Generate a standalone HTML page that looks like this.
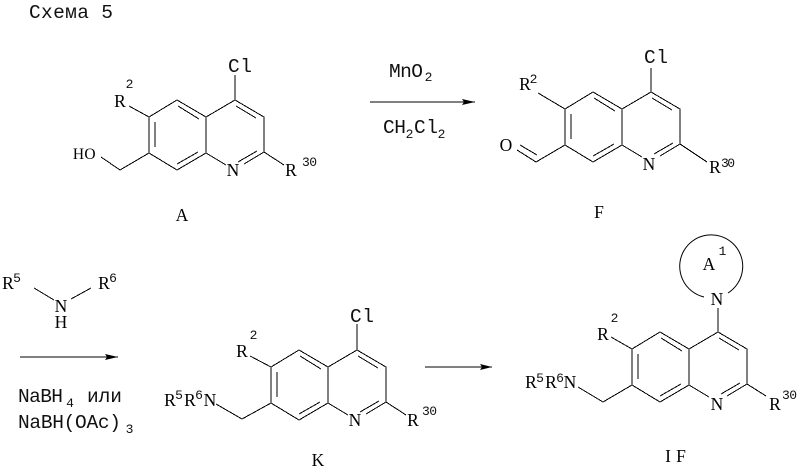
<!DOCTYPE html>
<html><head><meta charset="utf-8"><style>
html,body{margin:0;padding:0;background:#fff}
svg{display:block}
text{font-family:"Liberation Mono","Noto Sans CJK SC",monospace;font-size:19.500px;fill:#111;text-anchor:middle}
text.s{font-size:13px;font-family:"Liberation Mono",monospace}
text.c{font-family:"Liberation Serif",serif;font-size:17.500px;fill:#000}
.b{stroke:#000;stroke-width:1;fill:none;shape-rendering:crispEdges}
</style></head><body>
<svg width="798" height="472" viewBox="0 0 798 472" xmlns="http://www.w3.org/2000/svg">
<defs>
<g id="q" class="b">
<path d="M235 100L264 117V152M235 100L206 117V153L226 165M206 117L177 100L149 117V153L177 170L206 153M264 152L244 164"/>
<path d="M236 106L256 118M257 151L238 162M178 106L199 119M155 122V147M177 164L198 152"/>
</g>
</defs>
<rect width="798" height="472" fill="#fff"/>
<text x="71" y="18" textLength="84">Схема 5</text>

<!-- A -->
<use href="#q"/>
<path class="b" d="M235 100V75M129 106L149 117M149 153L120 170L101 157M264 152L284 165"/>
<text x="240" y="72" textLength="24">Cl</text>
<text class="c" x="120" y="107">R</text><text class="s" x="129.500" y="88">2</text>
<text class="c" style="font-size:15.500px" x="78.500" y="159">H</text><text class="c" style="font-size:15.500px" x="90" y="159">O</text>
<text class="c" x="233" y="176">N</text>
<text class="c" x="291" y="176">R</text><text class="s" x="309.500" y="166" textLength="15">30</text>
<text class="c" x="182" y="221">A</text>

<!-- F -->
<use href="#q" x="416" y="-8"/>
<path class="b" d="M651 92V68M538 93L565 109M565 145L536 162L517 150M537 155L520 145M680 144L707 162"/>
<text x="656" y="63" textLength="24">Cl</text>
<text class="c" x="525" y="90">R</text><text class="s" x="533.500" y="83">2</text>
<text class="c" x="506" y="151">O</text>
<text class="c" x="649" y="170">N</text>
<text class="c" x="715" y="173">R</text><text class="s" x="728" y="167" textLength="14">30</text>
<text class="c" x="599" y="218">F</text>

<!-- MnO2 arrow -->
<text x="406" y="77" textLength="34">MnO</text><text class="s" x="428.500" y="81">2</text>
<path class="b" d="M370 102H475"/>
<path d="M462 99L475 102L462 105L464 102Z" fill="#000"/>
<text x="394.500" y="133" textLength="23">CH</text><text class="s" x="409.500" y="138">2</text>
<text x="426" y="133" textLength="24">Cl</text><text class="s" x="441.500" y="138">2</text>

<!-- amine -->
<text class="c" x="8" y="289">R</text><text class="s" x="17" y="282">5</text>
<text class="c" x="104" y="289">R</text><text class="s" x="113" y="282">6</text>
<path class="b" d="M34 288L54 300M71 299L91 288"/>
<text class="c" x="61" y="312">N</text><text class="c" x="61" y="328">H</text>
<path class="b" d="M20 357H118"/>
<path d="M105 354L118 357L105 360L107 357Z" fill="#000"/>
<text x="40.500" y="402" textLength="45">NaBH</text><text class="s" x="70" y="407">4</text>
<text x="104.500" y="402" textLength="35">или</text>
<text x="69.500" y="428" textLength="103">NaBH(OAc)</text><text class="s" x="129.500" y="433">3</text>

<!-- K -->
<use href="#q" x="122" y="250"/>
<path class="b" d="M357 350V324M250 356L271 367M271 403L242 419L216 404M386 402L406 415"/>
<text x="362" y="322" textLength="24">Cl</text>
<text class="c" x="242" y="357">R</text><text class="s" x="253.500" y="339">2</text>
<text class="c" x="170" y="406">R</text><text class="s" x="179" y="399">5</text>
<text class="c" x="190" y="406">R</text><text class="s" x="199" y="399">6</text>
<text class="c" x="210" y="406">N</text>
<text class="c" x="355" y="426">N</text>
<text class="c" x="413" y="426">R</text><text class="s" x="429.500" y="415" textLength="15">30</text>
<text class="c" x="318" y="466">K</text>
<path class="b" d="M425 367H492"/>
<path d="M480 364L492 367L480 370L482 367Z" fill="#000"/>

<!-- IF -->
<use href="#q" x="483" y="232"/>
<path class="b" style="shape-rendering:auto" d="M704 297A31.500 31.500 0 1 1 728 293"/>
<path class="b" d="M718 308V332M611 337L632 349M632 385L603 402L578 387M747 384L766 396"/>
<text class="c" x="709" y="270">A</text><text class="s" x="722.500" y="255">1</text>
<text class="c" x="717" y="305">N</text>
<text class="c" x="603" y="340">R</text><text class="s" x="614.500" y="322">2</text>
<text class="c" x="531" y="388">R</text><text class="s" x="540" y="382">5</text>
<text class="c" x="551" y="388">R</text><text class="s" x="560" y="382">6</text>
<text class="c" x="570" y="388">N</text>
<text class="c" x="717" y="410">N</text>
<text class="c" x="775" y="410">R</text><text class="s" x="789.500" y="399" textLength="15">30</text>
<text class="c" x="668" y="462">I</text><text class="c" x="681" y="462">F</text>
</svg>
</body></html>
